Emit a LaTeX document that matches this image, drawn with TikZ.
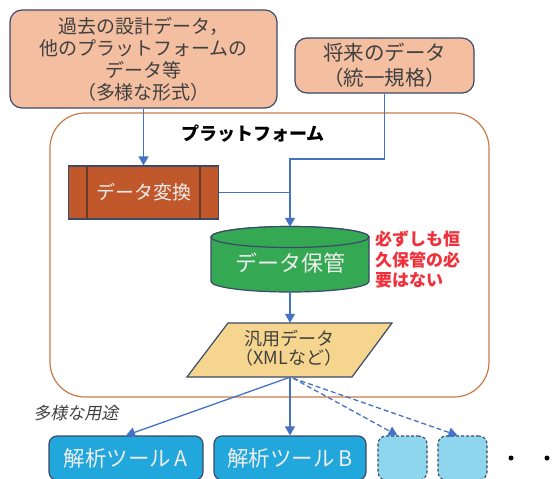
\documentclass[tikz,border=0pt]{standalone}
\usepackage{fontspec}
\setmainfont{Noto Sans CJK JP}
\newfontfamily\cjkit{Noto Sans CJK JP}[FakeSlant=0.2]
\usetikzlibrary{arrows.meta,calc}
\definecolor{salmon}{HTML}{F4BEA0}
\definecolor{edge}{HTML}{3B4A66}
\definecolor{plat}{HTML}{C87A48}
\definecolor{conv}{HTML}{C0582B}
\definecolor{bar}{HTML}{6A3B28}
\definecolor{cylg}{HTML}{34A853}
\definecolor{parafill}{HTML}{F6D68F}
\definecolor{tool}{HTML}{22A7DC}
\definecolor{toollt}{HTML}{8ED6EE}
\definecolor{conn}{HTML}{4472C4}
\definecolor{txt}{HTML}{404040}
\definecolor{lt}{HTML}{EEEEEE}
\definecolor{redtxt}{HTML}{F0303A}
\tikzset{
  srcbox/.style={draw=edge, line width=1.2pt, fill=salmon, rounded corners=12pt, align=center, text=txt, inner sep=0pt},
  conn/.style={draw=conn, line width=1.3pt},
  arr/.style={conn, -{Triangle[width=10pt,length=9pt]}},
  darr/.style={conn, dashed, dash pattern=on 5pt off 3pt, -{Triangle[width=10pt,length=9pt]}},
  toolbox/.style={draw=edge, line width=1.2pt, fill=tool, rounded corners=8pt, text=lt, inner sep=0pt, minimum height=44pt},
  dbox/.style={draw=edge, line width=1.1pt, dashed, dash pattern=on 3pt off 2pt, fill=toollt, rounded corners=8pt, inner sep=0pt, minimum height=44pt, minimum width=49pt},
}
\begin{document}
\begin{tikzpicture}[x=1pt,y=-1pt]
\useasboundingbox (0,0) rectangle (555,479);
% platform container
\draw[plat, line width=1.2pt, rounded corners=35pt] (50,113) rectangle (489,397);
\node[font=\fontsize{18}{20}\selectfont\bfseries, text=black] (pt) at (253,134) {プラットフォーム};
% sources
\node[srcbox, minimum width=267pt, minimum height=98pt, font=\fontsize{19}{22}\selectfont] (b1) at (143.5,59) {過去の設計データ，\\他のプラットフォームの\\データ等\\（多様な形式）};
\node[srcbox, minimum width=179pt, minimum height=55pt, font=\fontsize{20.5}{25}\selectfont] (b2) at (384.5,65.5) {将来のデータ\\（統一規格）};
% conversion
\node[draw=edge, line width=1.2pt, fill=conv, minimum width=150pt, minimum height=53pt, inner sep=0pt, text=lt, font=\fontsize{19}{22}\selectfont] (tr) at (143.5,192.5) {データ変換};
\draw[bar, line width=2.5pt] ($(tr.north west)+(19,0.8)$) -- ($(tr.south west)+(19,-0.8)$);
\draw[bar, line width=2.5pt] ($(tr.north east)+(-19,0.8)$) -- ($(tr.south east)+(-19,-0.8)$);
% storage cylinder
\node[minimum width=158pt, minimum height=65pt, inner sep=0pt] (cyl) at (290,259.5) {};
\draw[edge, line width=1.2pt, fill=cylg] (211,237) -- (211,281.5) arc[start angle=180, end angle=0, x radius=79, y radius=10.5] -- (369,237) arc[start angle=0, end angle=-180, x radius=79, y radius=10.5] -- cycle;
\draw[edge, line width=1.2pt, fill=cylg] (290,237) ellipse [x radius=79, y radius=10.5];
\node[text=lt, font=\fontsize{22}{24}\selectfont] (cyltxt) at (290,263) {データ保管};
\node[anchor=west, align=left, text=redtxt, font=\fontsize{17}{20.5}\selectfont\bfseries, inner sep=0pt] (note) at (375,260) {必ずしも恒\\久保管の必\\要はない};
% general data parallelogram
\node[minimum width=165pt, minimum height=54pt, inner sep=0pt, align=center, text=txt, font=\fontsize{18}{19.5}\selectfont] (para) at (290,350) {};
\draw[edge, line width=1.2pt, fill=parafill] (228,323) -- (392,323) -- (352,377) -- (187,377) -- cycle;
\node[align=center, text=txt, font=\fontsize{18}{19.5}\selectfont] (paratxt) at (289,348) {汎用データ\\（XMLなど）};
% tools
\node[toolbox, minimum width=154pt, font=\fontsize{21.5}{24}\selectfont] (ta) at (126,458) {解析ツール\,A};
\node[toolbox, minimum width=152pt, font=\fontsize{21.5}{24}\selectfont] (tb) at (290,458) {解析ツール\,B};
\node[dbox] (d1) at (402.5,458) {};
\node[dbox] (d2) at (462.5,458) {};
\node[circle, fill=black, inner sep=0pt, minimum size=5pt] (dot1) at (511,458) {};
\node[circle, fill=black, inner sep=0pt, minimum size=5pt] (dot2) at (547,458) {};
\node[text=txt, font=\cjkit\fontsize{17}{19}\selectfont] (use) at (76,413) {多様な用途};
% connectors
\coordinate (j) at (290,159);
\coordinate (k) at (290,192.5);
\draw[arr] (b1.south) -- (tr.north);
\draw[arr] (b2.south) |- (j) -- (cyl.north);
\draw[conn] (tr.east) -- (k);
\draw[arr] (cyl.south) -- (para.north);
\draw[arr] (para.south) -- (ta.north);
\draw[arr] (para.south) -- (tb.north);
\draw[darr] ($(para.south)+(3,1)$) -- ($(d1.north)+(-5,0)$);
\draw[darr] ($(para.south)+(3,1)$) -- ($(d2.north)+(-5,0)$);
\end{tikzpicture}
\end{document}
